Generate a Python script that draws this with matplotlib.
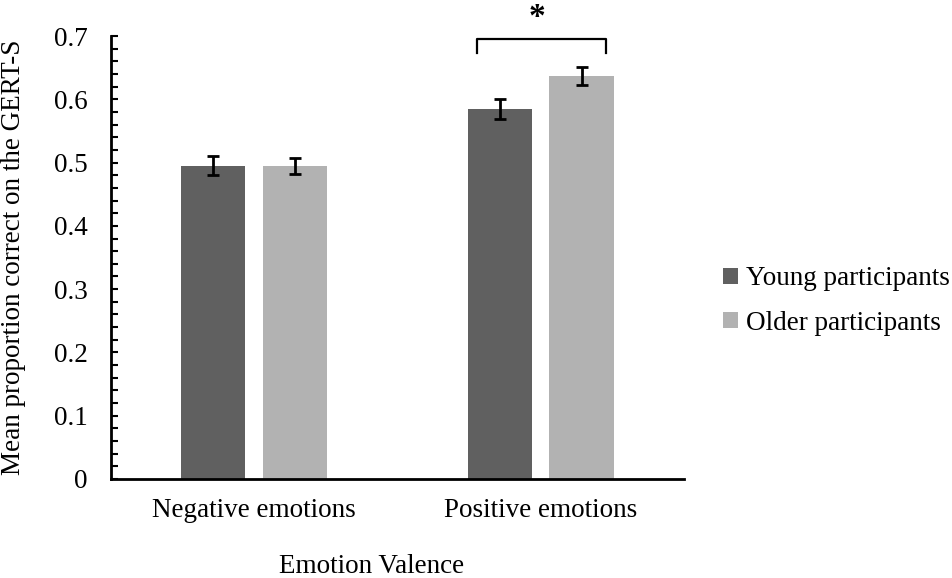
import numpy as np
import matplotlib
matplotlib.use("Agg")
import matplotlib.pyplot as plt
from matplotlib.ticker import MultipleLocator

plt.rcParams["font.family"] = ["Liberation Serif", "DejaVu Serif"]

categories = ["Negative emotions", "Positive emotions"]
series = ["Young participants", "Older participants"]
young = [0.495, 0.585]
older = [0.495, 0.637]
young_err = [0.015, 0.016]
older_err = [0.013, 0.014]
colors = ["#606060", "#b2b2b2"]

fs = 19.5
fig = plt.figure(figsize=(9.53, 5.78), dpi=100)
ax = fig.add_axes([0.1165, 0.1713, 0.601, 0.7664])

x = np.arange(len(categories))
w, off = 0.224, 0.143
err_kw = dict(ecolor="black", elinewidth=2, capsize=4.5, capthick=2)
ax.bar(x - off, young, w, yerr=young_err, color=colors[0], label=series[0], error_kw=err_kw)
ax.bar(x + off, older, w, yerr=older_err, color=colors[1], label=series[1], error_kw=err_kw)

ax.set_xlim(-0.5, 1.5)
ax.set_ylim(0, 0.7)
ax.yaxis.set_major_locator(MultipleLocator(0.1))
ax.yaxis.set_minor_locator(MultipleLocator(0.02))
ax.yaxis.set_major_formatter(lambda v, p: "0" if v == 0 else f"{v:.1f}")
ax.tick_params(axis="y", which="both", direction="in", length=5, width=1.5, labelsize=fs, pad=17)
ax.set_xticks(x, categories)
ax.tick_params(axis="x", length=0, labelsize=fs, pad=14)
for s in ("top", "right"):
    ax.spines[s].set_visible(False)
for s in ("left", "bottom"):
    ax.spines[s].set_linewidth(2)

ax.set_ylabel("Mean proportion correct on the GERT-S", fontsize=fs)
ax.yaxis.set_label_coords(-0.148, 0.5)
ax.set_xlabel("Emotion Valence", fontsize=fs)
ax.xaxis.set_label_coords(0.455, -0.17)

# significance bracket over the positive-emotion pair
x0, x1 = x[1] - off - 0.08, x[1] + off + 0.086
yb = 0.695
ax.plot([x0, x0, x1, x1], [yb - 0.022, yb, yb, yb - 0.022], color="black", lw=1.6, clip_on=False)
ax.text((x0 + x1) / 2 - 0.015, yb + 0.01, "*", ha="center", va="bottom", fontsize=24, fontweight="bold")

leg = fig.legend(loc="center left", bbox_to_anchor=(0.733, 0.479), frameon=False, fontsize=fs,
                 handlelength=0.55, handleheight=0.55, handletextpad=0.3, labelspacing=0.72)

fig.savefig("out.png", dpi=100)
